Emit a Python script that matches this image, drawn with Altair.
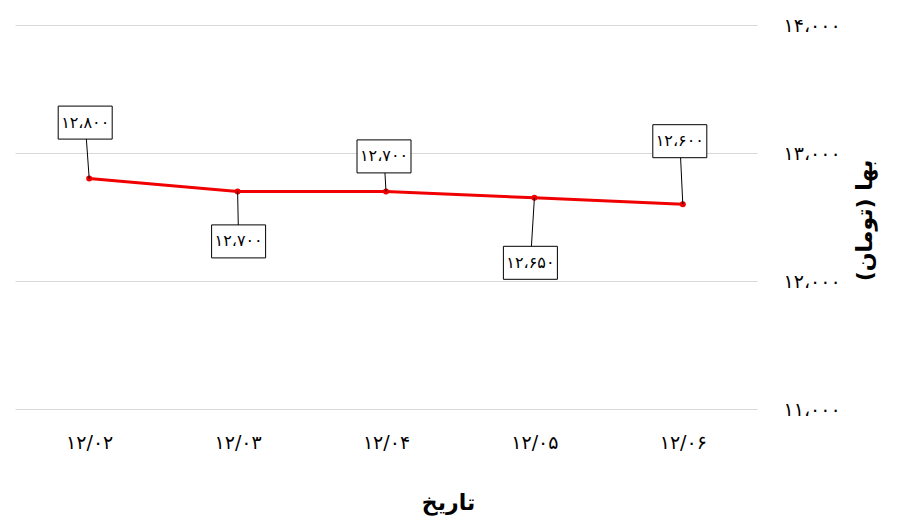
import altair as alt
import pandas as pd

# ---- data ----
dates = ["۱۲/۰۲", "۱۲/۰۳", "۱۲/۰۴", "۱۲/۰۵", "۱۲/۰۶"]
prices = [12800, 12700, 12700, 12650, 12600]
price_labels = ["۱۲،۸۰۰", "۱۲،۷۰۰", "۱۲،۷۰۰", "۱۲،۶۵۰", "۱۲،۶۰۰"]
y_ticks = [11000, 12000, 13000, 14000]
y_tick_labels = ["۱۱،۰۰۰", "۱۲،۰۰۰", "۱۳،۰۰۰", "۱۴،۰۰۰"]

# label box placement (pixel offsets from each point, styling only)
label_dx = [-4, 1, -2, -4, -3]
label_dy = [-56, 50, -35, 65, -63]

RED = "#f00000"
FONT = "DejaVu Sans"

df = pd.DataFrame({"date": dates, "price": prices, "label": price_labels})

label_expr = " : ".join(
    f"datum.value == {v} ? '{l}'" for v, l in zip(y_ticks, y_tick_labels)
) + " : ''"

x = alt.X(
    "date:N",
    sort=dates,
    scale=alt.Scale(type="point", padding=0.5),
    axis=alt.Axis(
        title="تاریخ",
        labelAngle=0,
        ticks=False,
        domain=False,
        grid=False,
        labelPadding=24,
        labelFontSize=19,
        labelFontWeight="normal",
        labelColor="black",
        titleFontSize=22,
        titleFontWeight="bold",
        titleColor="black",
        titleX=433,
        titleY=93,
        titleAlign="center",
        titleBaseline="middle",
    ),
)

y = alt.Y(
    "price:Q",
    scale=alt.Scale(domain=[11000, 14000], nice=False, zero=False),
    axis=alt.Axis(
        orient="right",
        values=y_ticks,
        labelExpr=label_expr,
        grid=True,
        gridColor="#d9d9d9",
        gridWidth=1,
        ticks=False,
        domain=False,
        labelPadding=26,
        labelFontSize=19,
        labelFontWeight="normal",
        labelColor="black",
        title="بها (تومان)\u200f",
        titleAngle=270,
        titleFontSize=22,
        titleFontWeight="bold",
        titleColor="black",
        titleX=107,
        titleY=195,
        titleAlign="center",
        titleBaseline="middle",
    ),
)

base = alt.Chart(df)

layers = [
    base.mark_line(color=RED, strokeWidth=3).encode(x=x, y=y),
    base.mark_circle(color=RED, size=36, opacity=1).encode(x=x, y=y),
]

box_path = "M -1 -0.611 L 1 -0.611 L 1 0.611 L -1 0.611 Z"

for d, dx, dy in zip(dates, label_dx, label_dy):
    sub = base.transform_filter(alt.datum.date == d)
    layers.append(
        sub.mark_rule(color="black", strokeWidth=1, x2Offset=dx, y2Offset=dy).encode(
            x=x, y=y, x2="date:N", y2="price:Q"
        )
    )
    layers.append(
        sub.mark_point(
            shape=box_path,
            size=54 * 54,
            filled=True,
            fill="white",
            stroke="black",
            strokeWidth=1,
            opacity=1,
            fillOpacity=1,
            xOffset=dx,
            yOffset=dy,
        ).encode(x=x, y=y)
    )
    layers.append(
        sub.mark_text(dx=dx, dy=dy, fontSize=16, color="black", font=FONT, baseline="middle", align="center").encode(
            x=x, y=y, text="label:N"
        )
    )

chart = (
    alt.layer(*layers)
    .properties(
        width=742,
        height=384,
        autosize=alt.AutoSizeParams(type="none"),
        padding={"left": 7, "top": 17, "right": 143, "bottom": 112},
        background="white",
    )
    .configure(font=FONT)
    .configure_view(strokeWidth=0, stroke="transparent")
)

chart.save("out.html", embed_options={"renderer": "svg", "actions": False})
